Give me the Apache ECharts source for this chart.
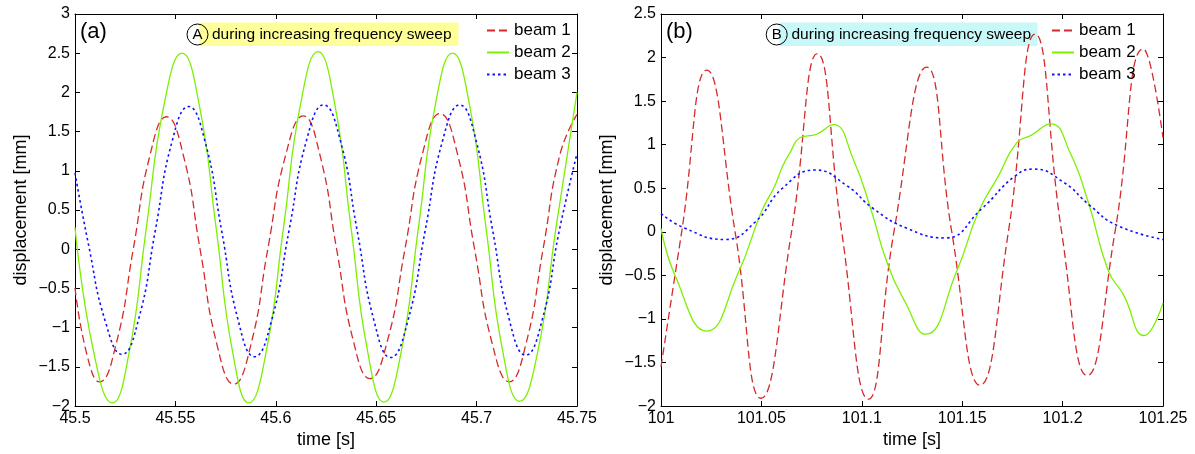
<!DOCTYPE html>
<html>
<head>
<meta charset="utf-8">
<script src="https://cdn.jsdelivr.net/npm/echarts@6/dist/echarts.min.js"></script>
<style>
  html, body { margin: 0; padding: 0; background: #fff; }
  #chart { width: 1195px; height: 454px; }
</style>
</head>
<body>
<div id="chart"></div>
<script>
// ---- data ----
const seriesNames = ["beam 1", "beam 2", "beam 3"];

// panel (a): 45.5 .. 45.75 s
const xTicksA = [45.5, 45.55, 45.6, 45.65, 45.7, 45.75];
const timeA_beam1 = [45.5, 45.5061, 45.5122, 45.5206, 45.529, 45.5373, 45.5456, 45.554, 45.5623, 45.5707, 45.5791, 45.5876, 45.596, 45.6049, 45.6137, 45.622, 45.6303, 45.6386, 45.6469, 45.6556, 45.6643, 45.6731, 45.6818, 45.6904, 45.699, 45.7077, 45.7163, 45.7247, 45.7331, 45.7416, 45.75];
const dispA_beam1 = [-0.49, -1.36, -1.69, -1.195, 0, 1.195, 1.69, 1.195, 0, -1.216, -1.72, -1.216, 0, 1.20, 1.70, 1.20, 0, -1.167, -1.65, -1.167, 0, 1.223, 1.73, 1.223, 0, -1.195, -1.69, -1.195, 0, 1.216, 1.72];
const timeA_beam2 = [45.5, 45.5093, 45.5186, 45.527, 45.5355, 45.5444, 45.5533, 45.5618, 45.5703, 45.5785, 45.5866, 45.5952, 45.6038, 45.6124, 45.621, 45.6293, 45.6375, 45.6457, 45.6539, 45.6625, 45.671, 45.6795, 45.688, 45.6964, 45.7047, 45.713, 45.7214, 45.7305, 45.7395, 45.75];
const dispA_beam2 = [0.28, -1.31, -1.96, -1.31, 0.27, 1.85, 2.50, 1.85, 0.27, -1.31, -1.96, -1.31, 0.27, 1.86, 2.52, 1.86, 0.27, -1.30, -1.95, -1.30, 0.27, 1.85, 2.50, 1.85, 0.27, -1.30, -1.94, -1.30, 0.27, 2.0];
const timeA_beam3 = [45.5, 45.5068, 45.5151, 45.5234, 45.5317, 45.54, 45.5483, 45.5566, 45.5648, 45.573, 45.5812, 45.5894, 45.598, 45.6066, 45.6152, 45.6238, 45.6322, 45.6405, 45.6489, 45.6572, 45.6658, 45.6744, 45.683, 45.6916, 45.6998, 45.708, 45.7162, 45.7244, 45.7328, 45.7412, 45.75];
const dispA_beam3 = [0.97, 0.05, -0.92, -1.34, -0.89, 0.24, 1.37, 1.82, 1.37, 0.24, -0.90, -1.37, -0.90, 0.24, 1.38, 1.84, 1.38, 0.24, -0.91, -1.38, -0.91, 0.24, 1.38, 1.84, 1.38, 0.24, -0.89, -1.35, -0.89, 0.24, 1.22];

// panel (b): 101 .. 101.25 s
const xTicksB = [101, 101.05, 101.1, 101.15, 101.2, 101.25];
const timeB_beam1 = [101.0, 101.0103, 101.0228, 101.0369, 101.0498, 101.065, 101.0779, 101.09, 101.1033, 101.116, 101.1323, 101.1448, 101.1589, 101.173, 101.1863, 101.1995, 101.2123, 101.2261, 101.2402, 101.25];
const dispB_beam1 = [-1.55, 0, 1.856, 0, -1.91, 0, 2.045, 0, -1.92, 0, 1.89, 0, -1.76, 0, 2.27, 0, -1.65, 0, 2.10, 1.08];
const timeB_beam2 = [101.0, 101.007, 101.0228, 101.0385, 101.05, 101.0567, 101.0605, 101.0643, 101.0693, 101.0775, 101.0858, 101.0958, 101.1049, 101.1124, 101.1215, 101.1318, 101.1473, 101.1581, 101.168, 101.1771, 101.1845, 101.1941, 101.2037, 101.2128, 101.2228, 101.2303, 101.2405, 101.25];
const dispB_beam2 = [0.04, -0.5, -1.14, -0.47, 0.23, 0.53, 0.75, 0.91, 1.08, 1.12, 1.23, 0.83, 0.23, -0.34, -0.80, -1.175, -0.45, 0.23, 0.64, 1.02, 1.11, 1.24, 0.91, 0.34, -0.45, -0.72, -1.19, -0.815];
const timeB_beam3 = [101.0, 101.012, 101.0319, 101.0468, 101.0605, 101.0767, 101.0925, 101.1058, 101.1225, 101.1414, 101.1597, 101.1763, 101.1855, 101.2004, 101.2137, 101.227, 101.25];
const dispB_beam3 = [0.21, 0.04, -0.088, 0.11, 0.50, 0.71, 0.53, 0.265, 0.04, -0.07, 0.265, 0.64, 0.72, 0.57, 0.30, 0.075, -0.088];

const FONT = "'Liberation Sans', Arial, Helvetica, sans-serif";
const RED = "#d42a2a", GREEN = "#7cf000", BLUE = "#1010ff";

const zip = (t, v) => t.map((x, i) => [x, v[i]]);
const minus = v => String(v).replace("-", "\u2212");
const fmtX = v => String(parseFloat(v.toFixed(2)));

const chart = echarts.init(document.getElementById("chart"));

const gridBoxes = [
    { left: 75, top: 14, width: 502, height: 396 },
    { left: 661, top: 14, width: 502, height: 396 }
];

function xAxisFor(gi, ticks, bottom) {
    return {
        type: "value", gridIndex: gi, position: bottom ? "bottom" : "top",
        min: ticks[0], max: ticks[ticks.length - 1], interval: 0.05,
        name: bottom ? "time [s]" : "", nameLocation: "middle", nameGap: 20,
        nameTextStyle: { fontFamily: FONT, fontSize: 18, color: "#000" },
        axisLine: { onZero: false, lineStyle: { color: "#000", width: 1 } },
        axisTick: { inside: true, length: 5, lineStyle: { color: "#000" } },
        axisLabel: { show: bottom, margin: 4, fontFamily: FONT, fontSize: 16, color: "#000", formatter: fmtX, showMinLabel: true, showMaxLabel: true },
        splitLine: { show: false }
    };
}

function yAxisFor(gi, max, left) {
    return {
        type: "value", gridIndex: gi, position: left ? "left" : "right",
        min: -2, max: max, interval: 0.5,
        name: left ? "displacement [mm]" : "", nameLocation: "middle", nameGap: 45,
        nameTextStyle: { fontFamily: FONT, fontSize: 18, color: "#000" },
        axisLine: { onZero: false, lineStyle: { color: "#000", width: 1 } },
        axisTick: { inside: true, length: 5, lineStyle: { color: "#000" } },
        axisLabel: { show: left, margin: 5, fontFamily: FONT, fontSize: 16, color: "#000", formatter: minus },
        splitLine: { show: false }
    };
}

function lineSeries(name, gi, data) {
    const styles = {
        "beam 1": { color: RED, width: 1.3, type: [8, 4] },
        "beam 2": { color: GREEN, width: 1.3, type: "solid" },
        "beam 3": { color: BLUE, width: 1.6, type: [2.5, 3] }
    };
    return {
        name, type: "line", xAxisIndex: gi, yAxisIndex: gi, data,
        symbol: "none", smooth: true, color: styles[name].color,
        lineStyle: styles[name], itemStyle: { color: styles[name].color }
    };
}

function legendAt(left) {
    return {
        orient: "vertical", left, top: 22, padding: 0,
        itemWidth: 22, itemHeight: 12, itemGap: 5, selectedMode: false,
        data: seriesNames,
        itemStyle: { opacity: 0 },
        textStyle: { fontFamily: FONT, fontSize: 17, color: "#000" }
    };
}

function note(circleX, boxX, boxW, textX, letter, fill) {
    return [
        { type: "rect", z: 0, shape: { x: boxX, y: 22.5, width: boxW, height: 23.5 }, style: { fill } },
        { type: "circle", z: 1, shape: { cx: circleX, cy: 34.5, r: 10.5 }, style: { fill: "none", stroke: "#000", lineWidth: 1 } },
        { type: "text", z: 1, x: circleX, y: 35, style: { text: letter, font: "15px " + FONT, fill: "#000", align: "center", verticalAlign: "middle", textAlign: "center", textVerticalAlign: "middle" } },
        { type: "text", z: 1, x: textX, y: 34.5, style: { text: "during increasing frequency sweep", font: "15.5px " + FONT, fill: "#000", verticalAlign: "middle", textVerticalAlign: "middle" } }
    ];
}

const option = {
    animation: false,
    backgroundColor: "#fff",
    grid: gridBoxes,
    xAxis: [xAxisFor(0, xTicksA, true), xAxisFor(1, xTicksB, true), xAxisFor(0, xTicksA, false), xAxisFor(1, xTicksB, false)],
    yAxis: [yAxisFor(0, 3, true), yAxisFor(1, 2.5, true), yAxisFor(0, 3, false), yAxisFor(1, 2.5, false)],
    legend: [legendAt(486), legendAt(1051)],
    graphic: [
        ...note(197.5, 199.5, 259, 212, "A", "#ffff99"),
        ...note(776.7, 779.5, 258, 791.5, "B", "#c8f8f8"),
        { type: "text", x: 80, y: 32, style: { text: "(a)", font: "22px " + FONT, fill: "#000", verticalAlign: "middle", textVerticalAlign: "middle" } },
        { type: "text", x: 666, y: 32, style: { text: "(b)", font: "22px " + FONT, fill: "#000", verticalAlign: "middle", textVerticalAlign: "middle" } }
    ],
    series: [
        lineSeries("beam 1", 0, zip(timeA_beam1, dispA_beam1)),
        lineSeries("beam 2", 0, zip(timeA_beam2, dispA_beam2)),
        lineSeries("beam 3", 0, zip(timeA_beam3, dispA_beam3)),
        lineSeries("beam 1", 1, zip(timeB_beam1, dispB_beam1)),
        lineSeries("beam 2", 1, zip(timeB_beam2, dispB_beam2)),
        lineSeries("beam 3", 1, zip(timeB_beam3, dispB_beam3))
    ]
};

chart.setOption(option);
</script>
</body>
</html>
